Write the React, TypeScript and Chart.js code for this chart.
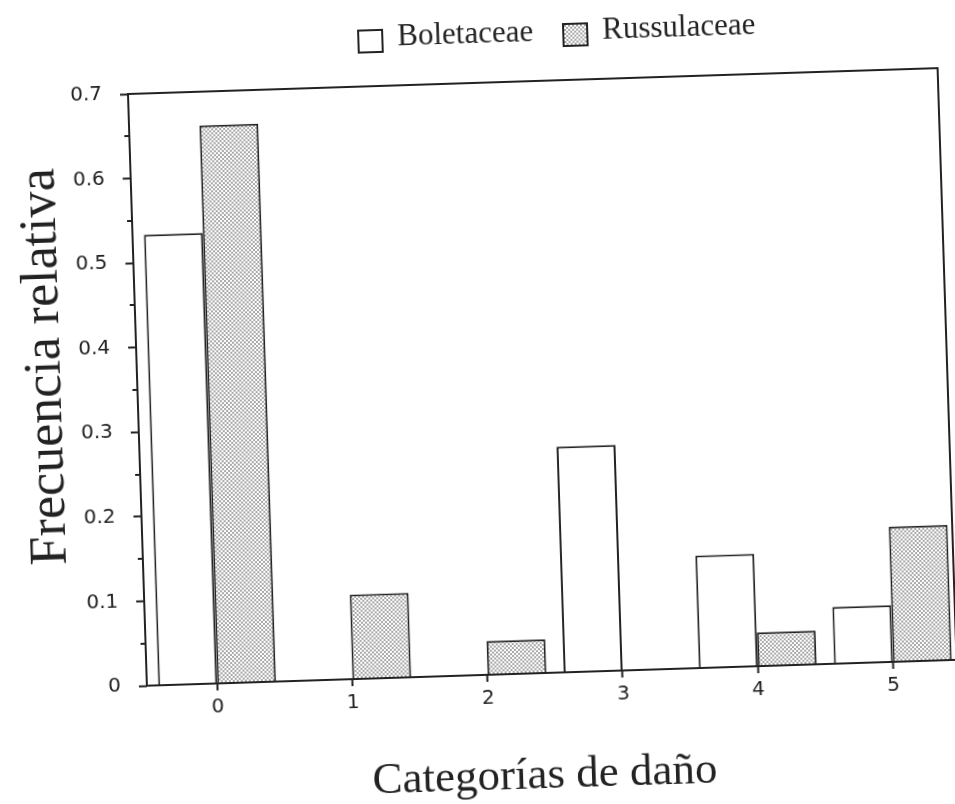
import { useEffect, useRef } from 'react';
import { Chart, registerables } from 'chart.js';

Chart.register(...registerables);

// Damage categories and relative frequency of each family
const categories = [0, 1, 2, 3, 4, 5];
const categoryLabels = ['0', '1', '2', '3', '4', '5'];
const boletaceae = [0.533, 0, 0, 0.267, 0.133, 0.067];
const russulaceae = [0.66, 0.1, 0.04, 0, 0.04, 0.16];

const yTicks = [0, 0.1, 0.2, 0.3, 0.4, 0.5, 0.6, 0.7];
const yTickLabels = ['0', '0.1', '0.2', '0.3', '0.4', '0.5', '0.6', '0.7'];
const yMinorTicks = [0.05, 0.15, 0.25, 0.35, 0.45, 0.55, 0.65];

const seriesNames = ['Boletaceae', 'Russulaceae'];
const yTitle = 'Frecuencia relativa';
const xTitle = 'Categorías de daño';

const W = 955;
const H = 804;
const ink = '#222222';
const serif = "'Liberation Serif', 'Times New Roman', serif";
const tickFont = { family: "'DejaVu Sans', sans-serif", size: 20 };

function makeDots(): CanvasPattern | string {
  const tile = document.createElement('canvas');
  tile.width = 4;
  tile.height = 4;
  const c = tile.getContext('2d');
  if (!c) return '#c0c0c0';
  c.fillStyle = '#ffffff';
  c.fillRect(0, 0, 4, 4);
  c.fillStyle = '#3c3c3c';
  for (const [cx, cy] of [[1, 1], [3, 3]]) {
    c.beginPath();
    c.arc(cx, cy, 0.8, 0, Math.PI * 2);
    c.fill();
  }
  return c.createPattern(tile, 'repeat') || '#c0c0c0';
}

function labelFor(list: number[], labels: string[], v: number): string {
  const i = list.findIndex((t) => Math.abs(t - v) < 1e-9);
  return i >= 0 ? labels[i] : '';
}

export default function App() {
  const canvasRef = useRef<HTMLCanvasElement | null>(null);

  useEffect(() => {
    const canvas = canvasRef.current;
    if (!canvas) return;
    const dots = makeDots();

    // Box frame, minor ticks, axis titles and legend
    const decorations = {
      id: 'decorations',
      afterDatasetsDraw(chart: any) {
        const { ctx, chartArea, scales } = chart;
        const { left, top, right, bottom } = chartArea;
        ctx.save();
        ctx.strokeStyle = ink;
        ctx.lineWidth = 2;
        ctx.strokeRect(left, top, right - left, bottom - top);
        for (const v of yMinorTicks) {
          const py = Math.round(scales.y.getPixelForValue(v));
          ctx.beginPath();
          ctx.moveTo(left - 5, py);
          ctx.lineTo(left, py);
          ctx.stroke();
        }
        ctx.restore();
      },
      afterDraw(chart: any) {
        const { ctx } = chart;
        ctx.save();
        ctx.fillStyle = ink;
        ctx.textBaseline = 'alphabetic';

        // y title
        ctx.save();
        ctx.translate(61, 353);
        ctx.rotate(-Math.PI / 2);
        ctx.textAlign = 'center';
        ctx.font = `52px ${serif}`;
        ctx.fillText(yTitle, 0, 0);
        ctx.restore();

        // x title
        ctx.textAlign = 'center';
        ctx.font = `45px ${serif}`;
        ctx.fillText(xTitle, 533, 790);

        // legend
        ctx.textAlign = 'left';
        ctx.font = `31px ${serif}`;
        ctx.lineWidth = 2;
        ctx.strokeStyle = ink;
        ctx.fillStyle = '#ffffff';
        ctx.fillRect(370, 27, 24, 22);
        ctx.strokeRect(370, 27, 24, 22);
        ctx.fillStyle = dots as any;
        ctx.fillRect(575, 27, 24, 22);
        ctx.strokeRect(575, 27, 24, 22);
        ctx.fillStyle = ink;
        ctx.fillText(seriesNames[0], 409, 43);
        ctx.fillText(seriesNames[1], 614, 43);
        ctx.restore();
      },
    };

    const chart = new Chart(canvas, {
      type: 'bar',
      data: {
        datasets: [
          {
            label: seriesNames[0],
            data: categories.map((c, i) => ({ x: c, y: boletaceae[i] })),
            backgroundColor: '#ffffff',
            borderColor: ink,
            borderWidth: 2,
            categoryPercentage: 0.872,
            barPercentage: 1,
          },
          {
            label: seriesNames[1],
            data: categories.map((c, i) => ({ x: c, y: russulaceae[i] })),
            backgroundColor: dots as any,
            borderColor: ink,
            borderWidth: 2,
            categoryPercentage: 0.872,
            barPercentage: 1,
          },
        ],
      },
      options: {
        animation: false,
        responsive: false,
        devicePixelRatio: 1,
        layout: { padding: { top: 83, right: 7, bottom: 0, left: 0 } },
        plugins: {
          legend: { display: false },
          tooltip: { enabled: false },
        },
        scales: {
          x: {
            type: 'linear',
            min: -0.52,
            max: 5.47,
            offset: false,
            border: { display: false },
            grid: {
              offset: false,
              drawOnChartArea: false,
              drawTicks: true,
              tickLength: 7,
              tickWidth: 2,
              tickColor: ink,
            },
            ticks: {
              font: tickFont,
              color: ink,
              padding: 5,
              maxRotation: 0,
              callback: (v: any) => labelFor(categories, categoryLabels, Number(v)),
            },
            afterBuildTicks: (s: any) => {
              s.ticks = categories.map((v) => ({ value: v }));
            },
            afterFit: (s: any) => {
              s.height = H - 675;
            },
          },
          y: {
            min: 0,
            max: 0.7,
            border: { display: false },
            grid: {
              drawOnChartArea: false,
              drawTicks: true,
              tickLength: 8,
              tickWidth: 2,
              tickColor: ink,
            },
            ticks: {
              font: tickFont,
              color: ink,
              padding: 18,
              callback: (v: any) => labelFor(yTicks, yTickLabels, Number(v)),
            },
            afterBuildTicks: (s: any) => {
              s.ticks = yTicks.map((v) => ({ value: v }));
            },
            afterFit: (s: any) => {
              s.width = 138;
            },
          },
        },
      } as any,
      plugins: [decorations],
    });

    return () => chart.destroy();
  }, []);

  return (
    <div
      style={{
        position: 'fixed',
        left: 0,
        top: 0,
        width: W,
        height: H,
        background: '#ffffff',
        transform: 'rotate(-1.83deg)',
        transformOrigin: '50% 50%',
      }}
    >
      <canvas ref={canvasRef} width={W} height={H} style={{ width: W, height: H, display: 'block' }} />
    </div>
  );
}
